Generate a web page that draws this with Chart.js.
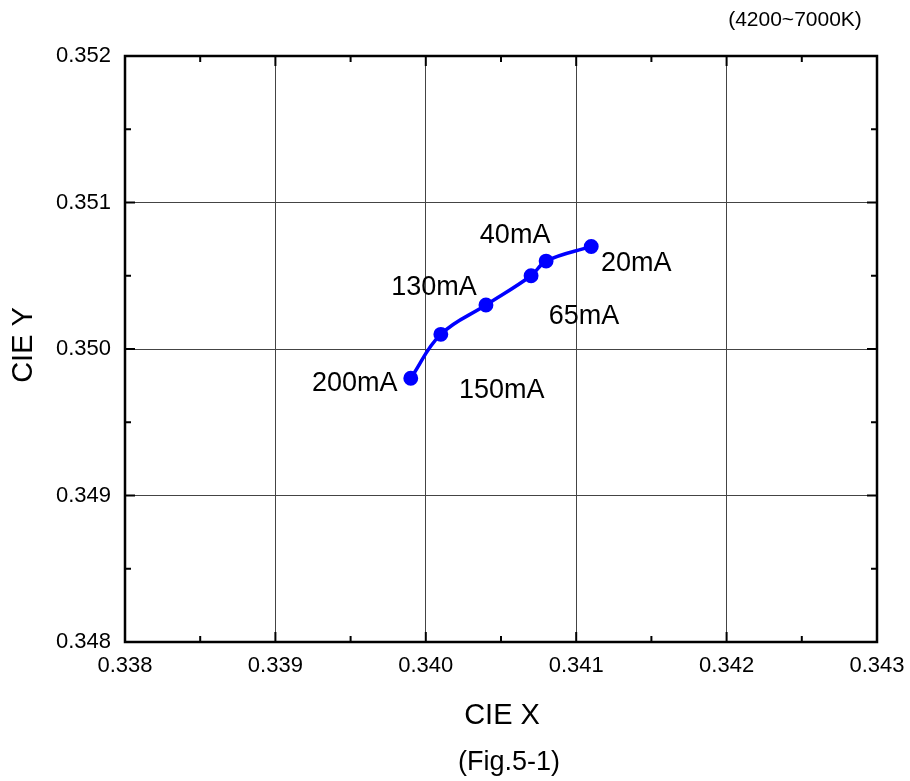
<!DOCTYPE html>
<html>
<head>
<meta charset="utf-8">
<script src="https://cdn.jsdelivr.net/npm/chart.js@4/dist/chart.umd.min.js"></script>
<style>
  html, body { margin: 0; padding: 0; background: #fff; }
  #wrap { width: 910px; height: 781px; }
</style>
</head>
<body>
<div id="wrap"><canvas id="chart-cie"></canvas></div>
<script>
// data
var currents = ['200mA', '150mA', '130mA', '65mA', '40mA', '20mA'];
var cieX = [0.3399, 0.3401, 0.3404, 0.3407, 0.3408, 0.3411];
var cieY = [0.3498, 0.3501, 0.3503, 0.3505, 0.3506, 0.3507];
var xTicks = [0.338, 0.339, 0.340, 0.341, 0.342, 0.343];
var yTicks = [0.348, 0.349, 0.350, 0.351, 0.352];

var FONT = 'Liberation Sans, Arial, sans-serif';

// label offsets from each point, px
var labelOffsets = [[-56, 5], [61, 56], [-52, -18], [53, 41], [-31, -26], [45, 17]];

var points = cieX.map(function (x, i) { return { x: x, y: cieY[i] }; });

var decorations = {
    id: 'decorations',
    afterDraw: function (chart) {
        var ctx = chart.ctx;
        var area = chart.chartArea;
        var sx = chart.scales.x, sy = chart.scales.y;
        ctx.save();

        // inward ticks, major + minor
        ctx.strokeStyle = '#000';
        ctx.lineWidth = 2;
        ctx.beginPath();
        xTicks.forEach(function (v, i) {
            var px = sx.getPixelForValue(v);
            ctx.moveTo(px, area.bottom); ctx.lineTo(px, area.bottom - 10);
            ctx.moveTo(px, area.top); ctx.lineTo(px, area.top + 10);
            if (i < xTicks.length - 1) {
                var mx = sx.getPixelForValue((v + xTicks[i + 1]) / 2);
                ctx.moveTo(mx, area.bottom); ctx.lineTo(mx, area.bottom - 6);
                ctx.moveTo(mx, area.top); ctx.lineTo(mx, area.top + 6);
            }
        });
        yTicks.forEach(function (v, i) {
            var py = sy.getPixelForValue(v);
            ctx.moveTo(area.left, py); ctx.lineTo(area.left + 10, py);
            ctx.moveTo(area.right, py); ctx.lineTo(area.right - 10, py);
            if (i < yTicks.length - 1) {
                var my = sy.getPixelForValue((v + yTicks[i + 1]) / 2);
                ctx.moveTo(area.left, my); ctx.lineTo(area.left + 6, my);
                ctx.moveTo(area.right, my); ctx.lineTo(area.right - 6, my);
            }
        });
        ctx.stroke();

        // frame
        ctx.lineWidth = 2.5;
        ctx.strokeRect(area.left, area.top, area.right - area.left, area.bottom - area.top);

        // point labels
        ctx.fillStyle = '#000';
        ctx.font = '27px ' + FONT;
        ctx.textAlign = 'center';
        ctx.textBaseline = 'middle';
        currents.forEach(function (lbl, i) {
            var px = sx.getPixelForValue(cieX[i]) + labelOffsets[i][0];
            var py = sy.getPixelForValue(cieY[i]) + labelOffsets[i][1];
            ctx.fillText(lbl, px, py);
        });

        // axis titles and notes
        ctx.font = '29px ' + FONT;
        ctx.fillText('CIE X', 502, 716);
        ctx.save();
        ctx.translate(24, 345);
        ctx.rotate(-Math.PI / 2);
        ctx.fillText('CIE Y', 0, 0);
        ctx.restore();

        ctx.font = '27px ' + FONT;
        ctx.fillText('(Fig.5-1)', 509, 763);
        ctx.font = '21px ' + FONT;
        ctx.fillText('(4200~7000K)', 795, 20);
        ctx.restore();
    }
};

new Chart(document.getElementById('chart-cie'), {
    type: 'scatter',
    data: {
        datasets: [{
            data: points,
            showLine: true,
            borderColor: '#0000ff',
            backgroundColor: '#0000ff',
            borderWidth: 3.5,
            pointRadius: 5.7,
            pointHoverRadius: 5.7,
            tension: 0.4,
        }],
    },
    options: {
        responsive: true,
        maintainAspectRatio: false,
        animation: false,
        layout: { padding: { top: 56, right: 33, left: 0, bottom: 0 } },
        plugins: {
            legend: { display: false },
            tooltip: { enabled: false },
        },
        scales: {
            x: {
                type: 'linear',
                min: 0.338,
                max: 0.343,
                afterFit: function (scale) {
                    scale.height = 139;
                    scale.paddingLeft = 0;
                    scale.paddingRight = 0;
                },
                afterBuildTicks: function (scale) {
                    scale.ticks = xTicks.map(function (v) { return { value: v }; });
                },
                grid: { color: '#444', lineWidth: 1, drawTicks: false },
                border: { display: false },
                ticks: {
                    padding: 11,
                    color: '#000',
                    font: { size: 22, family: FONT },
                    callback: function (v) { return Number(v).toFixed(3); },
                },
            },
            y: {
                type: 'linear',
                min: 0.348,
                max: 0.352,
                afterFit: function (scale) {
                    scale.width = 125;
                    scale.paddingTop = 0;
                    scale.paddingBottom = 0;
                },
                afterBuildTicks: function (scale) {
                    scale.ticks = yTicks.map(function (v) { return { value: v }; });
                },
                grid: { color: '#444', lineWidth: 1, drawTicks: false },
                border: { display: false },
                ticks: {
                    padding: 14,
                    color: '#000',
                    font: { size: 22, family: FONT },
                    callback: function (v) { return Number(v).toFixed(3); },
                },
            },
        },
    },
    plugins: [decorations],
});
</script>
</body>
</html>
